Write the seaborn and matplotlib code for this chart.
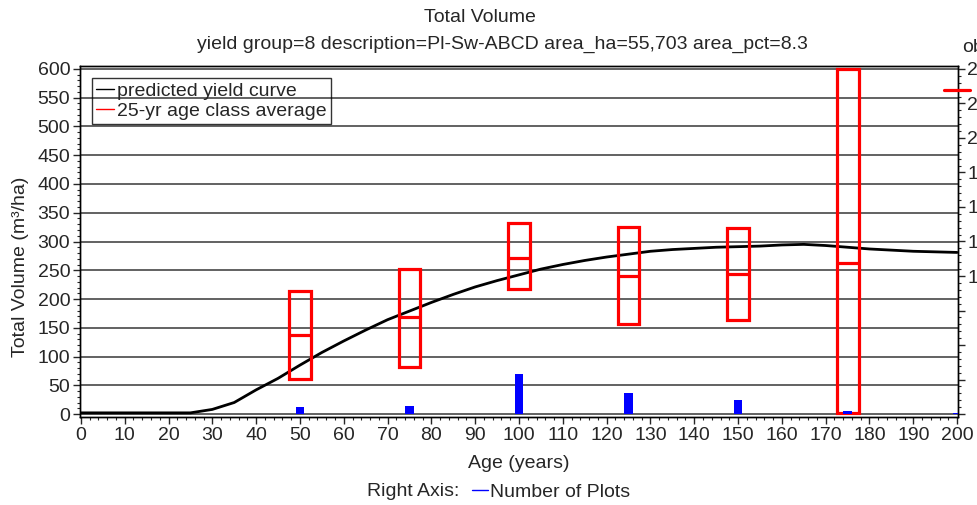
import numpy as np
import matplotlib
matplotlib.use("Agg")
import matplotlib.pyplot as plt
import seaborn as sns
from matplotlib.lines import Line2D
from matplotlib.ticker import MultipleLocator

# ---- data ----
curve_age = [0, 5, 10, 15, 20, 25, 30, 35, 40, 45, 50, 55, 60, 65, 70, 75, 80, 85, 90, 95,
             100, 105, 110, 115, 120, 125, 130, 135, 140, 145, 150, 155, 160, 165, 170, 175,
             180, 185, 190, 195, 200]
curve_vol = [2, 2, 2, 2, 2, 2, 8, 20, 42, 62, 85, 107, 127, 146, 164, 179, 194, 208, 221, 232,
             242, 252, 260, 267, 273, 278, 283, 286, 288, 290, 291, 292, 294, 295, 293, 290,
             287, 285, 283, 282, 281]

class_age = [50, 75, 100, 125, 150, 175]
class_low = [61, 81, 217, 156, 164, 1]
class_mean = [138, 168, 272, 240, 244, 262]
class_high = [214, 252, 332, 326, 323, 600]

plot_age = [50, 75, 100, 125, 150, 175, 200]
plot_count = [5, 6, 29, 15, 10, 2, 1]

right_ticks = [0, 25, 50, 75, 100, 125, 150, 175, 200, 225, 250]

title = "Total Volume"
subtitle = "yield group=8 description=Pl-Sw-ABCD area_ha=55,703 area_pct=8.3"

# ---- style ----
sns.set_style("ticks")
plt.rcParams["font.family"] = ["Liberation Sans", "DejaVu Sans"]
FS = 14

W, H = 977, 505
fig = plt.figure(figsize=(W / 100, H / 100), dpi=100)
ax = fig.add_axes([80 / W, 1 - 417 / H, 878 / W, 351 / H])

# yield curve
sns.lineplot(x=curve_age, y=curve_vol, ax=ax, color="black", lw=2.0, legend=False, zorder=4)

# 25-yr age class boxes
low = np.array(class_low)
high = np.array(class_high)
ages = np.array(class_age)
ax.bar(ages, high - low, bottom=low, width=5, fill=False, edgecolor="#ff0000",
       linewidth=2.3, zorder=5)
ax.hlines(class_mean, ages - 2.5, ages + 2.5, colors="#ff0000", lw=2.3, zorder=5)

ax.set_xlim(-0.2, 200.2)
ax.set_ylim(-5.2, 605.2)
ax.xaxis.set_major_locator(MultipleLocator(10))
ax.xaxis.set_minor_locator(MultipleLocator(2))
ax.yaxis.set_major_locator(MultipleLocator(50))
ax.yaxis.set_minor_locator(MultipleLocator(10))
ax.yaxis.grid(True, color="#555555", lw=1.3)
ax.set_axisbelow(True)
ax.tick_params(which="major", direction="out", length=5, width=1, labelsize=FS, pad=2)
ax.tick_params(which="minor", direction="out", length=2.5, width=0.8)
for s in ax.spines.values():
    s.set_color("black")
    s.set_linewidth(1)

ax.set_xlabel("Age (years)", fontsize=FS, labelpad=8)
ax.set_ylabel("Total Volume (m³/ha)", fontsize=FS)
ax.yaxis.set_label_coords(-0.058, 0.427)

# number of plots on the right axis
ax2 = ax.twinx()
sns.barplot(x=plot_age, y=plot_count, native_scale=True, width=0.075, color="#0000ff",
            saturation=1, ax=ax2, zorder=3, linewidth=0, edgecolor="none")
ax2.set_ylim(-5.2 * 250 / 600, 605.2 * 250 / 600)
ax2.set_xlim(-0.2, 200.2)
ax2.set_yticks(right_ticks)
ax2.yaxis.set_minor_locator(MultipleLocator(5))
ax2.tick_params(which="major", direction="out", length=5, width=1, labelsize=FS, pad=25)
ax2.tick_params(which="minor", direction="out", length=2.5, width=0.8)
for lab in ax2.get_yticklabels():
    lab.set_horizontalalignment("right")
ax2.set_ylabel("")
ax2.set_xlabel("")
for s in ax2.spines.values():
    s.set_color("black")
    s.set_linewidth(1)

# legend in the plot
leg = ax2.legend(handles=[Line2D([], [], color="black", lw=1),
                          Line2D([], [], color="#ff0000", lw=1)],
                 labels=["predicted yield curve", "25-yr age class average"],
                 loc="upper left", bbox_to_anchor=(92 / W, 1 - 78 / H),
                 bbox_transform=fig.transFigure, frameon=True, fancybox=False,
                 fontsize=FS, borderpad=0.2, handlelength=0.95, handletextpad=0.15,
                 labelspacing=0.15, borderaxespad=0)
leg.get_frame().set_edgecolor("black")
leg.get_frame().set_facecolor("none")
leg.get_frame().set_linewidth(1)

# titles
fig.text(480 / W, 1 - 17 / H, title, ha="center", va="center", fontsize=FS)
fig.text(502 / W, 1 - 44 / H, subtitle, ha="center", va="center", fontsize=FS)
fig.text(962 / W, 1 - 47 / H, "observed", ha="left", va="center", fontsize=FS)
fig.add_artist(Line2D([944 / W, 970 / W], [1 - 90 / H, 1 - 90 / H], color="#ff0000",
                      lw=2.3, transform=fig.transFigure))

# bottom legend
fig.text(367 / W, 1 - 492 / H, "Right Axis:", ha="left", va="center", fontsize=FS)
fig.legend(handles=[Line2D([], [], color="#0000ff", lw=1)], labels=["Number of Plots"],
           loc="center left", bbox_to_anchor=(472 / W, 1 - 492 / H), frameon=False,
           fontsize=FS, handlelength=0.8, handletextpad=0.1, borderpad=0, borderaxespad=0)

fig.savefig("out.png", dpi=100)
